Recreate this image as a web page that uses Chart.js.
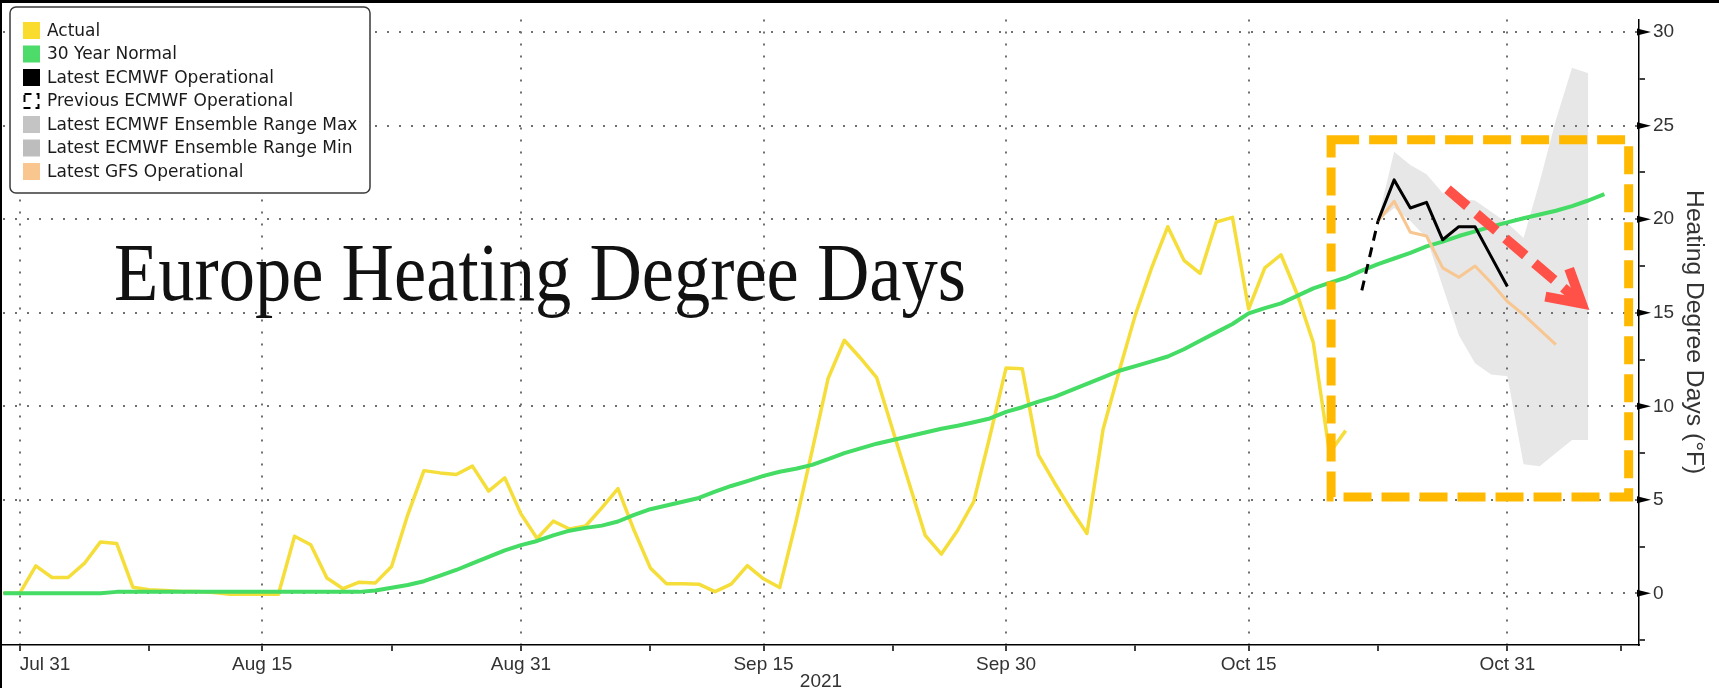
<!DOCTYPE html>
<html>
<head>
<meta charset="utf-8">
<title>Europe Heating Degree Days</title>
<script src="https://cdn.jsdelivr.net/npm/chart.js@4.4.1/dist/chart.umd.min.js"></script>
<style>
  html, body { margin: 0; padding: 0; background: #fff; overflow: hidden; }
  #wrap { position: relative; width: 1719px; height: 688px; }
</style>
</head>
<body>
<div id="wrap"><canvas id="hdd" width="1719" height="688"></canvas></div>
<script>
// day 0 of the x axis
const BASE_DATE = '2021-07-31';
const chartTitle = 'Europe Heating Degree Days';

// Actual HDD, daily from Jul 30
const actualStart = '2021-07-30';
const actual = [0.0, 0.0, 1.47, 0.85, 0.85, 1.6, 2.75, 2.67, 0.33, 0.2, 0.15, 0.1, 0.1, 0.05,
  -0.05, -0.05, -0.05, -0.05, 3.05, 2.6, 0.82, 0.25, 0.6, 0.56, 1.44, 4.2, 6.56, 6.44, 6.35, 6.8,
  5.47, 6.18, 4.25, 2.93, 3.86, 3.44, 3.6, 4.57, 5.6, 3.36, 1.36, 0.52, 0.52, 0.49, 0.09, 0.49,
  1.48, 0.78, 0.31, 3.8, 7.6, 11.5, 13.53, 12.57, 11.53, 8.7, 5.9, 3.1, 2.1, 3.36, 4.9, 8.4,
  12.05, 12.0, 7.4, 5.9, 4.5, 3.2, 8.77, 11.9, 14.9, 17.4, 19.6, 17.8, 17.1, 19.85, 20.1, 15.2,
  17.4, 18.1, 16.0, 13.4, 7.5, 8.7];

// 30 year normal, daily from Jul 30
const normalStart = '2021-07-30';
const normal = [0, 0, 0, 0, 0, 0, 0,
  0.08, 0.08, 0.08, 0.08, 0.08, 0.08, 0.08, 0.08, 0.08, 0.08, 0.08, 0.08, 0.08, 0.08, 0.08, 0.08,
  0.15, 0.3, 0.45, 0.65, 0.95, 1.25, 1.6, 1.95, 2.3, 2.58, 2.8, 3.1, 3.35, 3.5, 3.62, 3.84, 4.2,
  4.5, 4.7, 4.9, 5.1, 5.44, 5.74, 6.0, 6.28, 6.5, 6.66, 6.87, 7.18, 7.5, 7.75, 8.0, 8.2, 8.4, 8.6,
  8.8, 8.96, 9.15, 9.35, 9.7, 9.95, 10.25, 10.5, 10.85, 11.2, 11.55, 11.9, 12.15, 12.4, 12.66,
  13.05, 13.5, 13.95, 14.4, 14.97, 15.25, 15.5, 15.9, 16.3, 16.6, 16.87, 17.25, 17.6, 17.9, 18.2,
  18.55, 18.8, 19.1, 19.35, 19.6, 19.83, 20.05, 20.25, 20.45, 20.7, 21.0, 21.34];

// forecasts
const ecmwfStart = '2021-10-23';
const ecmwfLatest = [19.9, 22.1, 20.6, 20.9, 18.9, 19.6, 19.6, 18.0, 16.4];
const ecmwfPrevStart = '2021-10-22';
const ecmwfPrevious = [16.2, 19.9];
const ensStart = '2021-10-23';
const ensMax = [20.0, 23.6, 22.9, 22.4, 21.4, 21.1, 21.0, 20.4, 19.8, 19.0, 22.0, 25.3, 28.1, 27.8];
const ensMin = [19.9, 20.6, 19.9, 19.0, 16.4, 13.8, 12.3, 11.7, 11.6, 6.9, 6.8, 7.5, 8.2, 8.2];
const gfsStart = '2021-10-23';
const gfs = [19.9, 20.96, 19.3, 19.1, 17.4, 16.9, 17.5, 16.6, 15.6, 14.9, 14.1, 13.3];

// axis ticks
const tickDates = ['2021-07-31', '2021-08-08', '2021-08-15', '2021-08-23', '2021-08-31', '2021-09-08',
  '2021-09-15', '2021-09-23', '2021-09-30', '2021-10-08', '2021-10-15', '2021-10-23', '2021-10-31', '2021-11-07'];
const tickLabels = ['Jul 31', '', 'Aug 15', '', 'Aug 31', '', 'Sep 15', '', 'Sep 30', '', 'Oct 15', '', 'Oct 31', ''];
const yTicks = [-2.5, 0, 2.5, 5, 7.5, 10, 12.5, 15, 17.5, 20, 22.5, 25, 27.5, 30];

// highlight box and trend arrow, in (day, value) units
const focusBox = { x0: 81.1, x1: 99.5, y0: 5.15, y1: 24.25 };
const trendArrow = { x0: 88.3, y0: 21.6, x1: 96.6, y1: 15.5 };

function dayOf(s) {
  return Math.round((Date.parse(s) - Date.parse(BASE_DATE)) / 86400000);
}
function series(start, values) {
  const d0 = dayOf(start);
  return values.map((v, i) => ({ x: d0 + i, y: v }));
}

const GRID = '#707070';
const tickFont = { family: 'Liberation Sans', size: 19 };

const overlay = {
  id: 'overlay',
  afterDatasetsDraw(chart) {
    const { ctx, scales: { x, y } } = chart;
    ctx.save();
    // orange dashed highlight box
    ctx.strokeStyle = '#ffb900';
    ctx.lineWidth = 9;
    ctx.setLineDash([28, 10]);
    const bx0 = x.getPixelForValue(focusBox.x0), bx1 = x.getPixelForValue(focusBox.x1);
    const by0 = y.getPixelForValue(focusBox.y1), by1 = y.getPixelForValue(focusBox.y0);
    ctx.strokeRect(bx0, by0, bx1 - bx0, by1 - by0);

    // red dashed arrow
    const ax0 = x.getPixelForValue(trendArrow.x0), ay0 = y.getPixelForValue(trendArrow.y0);
    const ax1 = x.getPixelForValue(trendArrow.x1), ay1 = y.getPixelForValue(trendArrow.y1);
    const ang = Math.atan2(ay1 - ay0, ax1 - ax0);
    ctx.strokeStyle = '#ff5148';
    ctx.lineWidth = 10;
    ctx.setLineDash([26, 12]);
    ctx.beginPath();
    ctx.moveTo(ax0, ay0);
    ctx.lineTo(ax1 - 8 * Math.cos(ang), ay1 - 8 * Math.sin(ang));
    ctx.stroke();
    ctx.setLineDash([]);
    ctx.lineJoin = 'miter';
    ctx.beginPath();
    const hl = 37, ha = 0.52;
    ctx.moveTo(ax1 - hl * Math.cos(ang - ha), ay1 - hl * Math.sin(ang - ha));
    ctx.lineTo(ax1, ay1);
    ctx.lineTo(ax1 - hl * Math.cos(ang + ha), ay1 - hl * Math.sin(ang + ha));
    ctx.stroke();
    ctx.restore();
  },
  afterDraw(chart) {
    const { ctx, scales: { y } } = chart;
    ctx.save();
    // arrow markers on the major y ticks
    ctx.fillStyle = '#000';
    y.ticks.forEach(t => {
      if (t.value % 5 !== 0) return;
      const py = y.getPixelForValue(t.value);
      ctx.beginPath();
      ctx.moveTo(y.left - 2, py - 3.5);
      ctx.lineTo(y.left + 12, py);
      ctx.lineTo(y.left - 2, py + 3.5);
      ctx.closePath();
      ctx.fill();
    });

    // title
    ctx.fillStyle = '#111';
    ctx.font = '82px "Liberation Serif"';
    ctx.textBaseline = 'alphabetic';
    ctx.textAlign = 'left';
    ctx.fillText(chartTitle, 114, 300, 852);

    // legend box
    ctx.beginPath();
    ctx.roundRect(10, 7, 360, 186, 6);
    ctx.fillStyle = '#fff';
    ctx.fill();
    ctx.strokeStyle = '#3a3a3a';
    ctx.lineWidth = 1.5;
    ctx.stroke();
    ctx.font = '17px "DejaVu Sans"';
    ctx.textBaseline = 'middle';
    chart.data.datasets.forEach((ds, i) => {
      const cy = 30.5 + i * 23.5;
      if (ds.swatchDashed) {
        ctx.strokeStyle = '#000';
        ctx.lineWidth = 2;
        ctx.setLineDash([7, 5]);
        ctx.strokeRect(24.5, cy - 7, 14, 14);
        ctx.setLineDash([]);
      } else {
        ctx.fillStyle = ds.swatch;
        ctx.fillRect(23, cy - 8.5, 17, 17);
      }
      ctx.fillStyle = '#1a1a1a';
      ctx.fillText(ds.label, 47, cy + 1);
    });

    // screenshot frame
    ctx.fillStyle = '#000';
    ctx.fillRect(0, 0, chart.width, 3);
    ctx.fillRect(0, 0, 2, chart.height);
    ctx.restore();
  }
};

new Chart(document.getElementById('hdd'), {
  type: 'line',
  data: {
    datasets: [
      { label: 'Actual', data: series(actualStart, actual), borderColor: '#f6de3a', swatch: '#f9dc2e', borderWidth: 3.5, order: 5 },
      { label: '30 Year Normal', data: series(normalStart, normal), borderColor: '#44dc64', swatch: '#4ddc6a', borderWidth: 4, order: 4 },
      { label: 'Latest ECMWF Operational', data: series(ecmwfStart, ecmwfLatest), borderColor: '#000', swatch: '#000', borderWidth: 3, order: 1 },
      { label: 'Previous ECMWF Operational', data: series(ecmwfPrevStart, ecmwfPrevious), borderColor: '#000', borderDash: [10, 7], swatchDashed: true, borderWidth: 3, order: 2 },
      { label: 'Latest ECMWF Ensemble Range Max', data: series(ensStart, ensMax), borderColor: 'rgba(0,0,0,0)', borderWidth: 0, backgroundColor: '#e7e7e7', fill: '+1', swatch: '#c4c4c4', order: 6 },
      { label: 'Latest ECMWF Ensemble Range Min', data: series(ensStart, ensMin), borderColor: 'rgba(0,0,0,0)', borderWidth: 0, swatch: '#bdbdbd', order: 7 },
      { label: 'Latest GFS Operational', data: series(gfsStart, gfs), borderColor: '#f8c690', swatch: '#f9c68f', borderWidth: 3, order: 3 }
    ]
  },
  options: {
    responsive: false,
    animation: false,
    devicePixelRatio: 1,
    layout: { padding: { left: 3, top: 3, right: 0, bottom: 0 } },
    elements: { point: { radius: 0 }, line: { tension: 0, borderJoinStyle: 'round' } },
    plugins: {
      legend: { display: false },
      tooltip: { enabled: false },
      filler: { drawTime: 'beforeDraw' }
    },
    scales: {
      x: {
        type: 'linear',
        min: -1.03,
        max: 100.14,
        afterBuildTicks: s => { s.ticks = tickDates.map(d => ({ value: dayOf(d) })); },
        afterFit: s => { s.height = 43; },
        ticks: {
          autoSkip: false, maxRotation: 0, align: 'inner', padding: 2,
          color: '#333', font: tickFont,
          callback: (v, i) => tickLabels[i]
        },
        grid: {
          color: c => tickLabels[c.index] ? GRID : 'rgba(0,0,0,0)',
          lineWidth: 2, tickColor: '#000', tickLength: 6, tickWidth: 1.5
        },
        border: { color: '#000', width: 1.5, dash: [2, 10] },
        title: { display: true, text: '2021', color: '#333', font: tickFont, padding: { top: 0, bottom: -5 } }
      },
      y: {
        position: 'right',
        min: -2.76,
        max: 30.68,
        afterBuildTicks: s => { s.ticks = yTicks.map(v => ({ value: v })); },
        afterFit: s => { s.width = 80; },
        ticks: {
          padding: 8, color: '#333', font: tickFont,
          callback: v => (v % 5 === 0 ? String(v) : '')
        },
        grid: {
          color: c => (c.tick && c.tick.value % 5 === 0 ? GRID : 'rgba(0,0,0,0)'),
          lineWidth: 2, tickColor: '#000', tickLength: 6, tickWidth: 1.5
        },
        border: { color: '#000', width: 1.5, dash: [2, 10] },
        title: { display: true, text: 'Heating Degree Days (°F)', color: '#333', font: { family: 'Liberation Sans', size: 24.7 }, padding: { top: 10, bottom: 0 } }
      }
    }
  },
  plugins: [overlay]
});
</script>
</body>
</html>
